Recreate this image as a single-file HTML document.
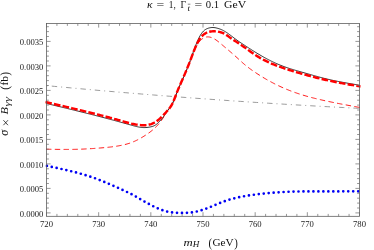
<!DOCTYPE html>
<html><head><meta charset="utf-8"><title>plot</title>
<style>html,body{margin:0;padding:0;background:#fff}svg{display:block;filter:opacity(0.999)}body{font-family:"Liberation Serif",serif}</style></head>
<body>
<svg width="374" height="250" viewBox="0 0 374 250">
<rect width="374" height="250" fill="#fff"/>
<clipPath id="c"><rect x="45.3" y="23.5" width="315.4" height="192.8"/></clipPath>
<g clip-path="url(#c)" fill="none">
<path d="M46.50,85.61 L50.46,85.99 L54.42,86.37 L58.39,86.74 L62.35,87.11 L66.31,87.47 L70.27,87.84 L74.23,88.20 L78.20,88.56 L82.16,88.92 L86.12,89.28 L90.08,89.63 L94.04,89.98 L98.01,90.33 L101.97,90.68 L105.93,91.02 L109.89,91.37 L113.85,91.71 L117.82,92.04 L121.78,92.38 L125.74,92.71 L129.70,93.04 L133.66,93.37 L137.63,93.70 L141.59,94.02 L145.55,94.35 L149.51,94.67 L153.47,94.98 L157.44,95.30 L161.40,95.61 L165.36,95.92 L169.32,96.23 L173.28,96.54 L177.25,96.84 L181.21,97.14 L185.17,97.44 L189.13,97.74 L193.09,98.03 L197.06,98.33 L201.02,98.62 L204.98,98.91 L208.94,99.19 L212.91,99.48 L216.87,99.76 L220.83,100.04 L224.79,100.31 L228.75,100.59 L232.72,100.86 L236.68,101.13 L240.64,101.40 L244.60,101.66 L248.56,101.93 L252.53,102.19 L256.49,102.44 L260.45,102.70 L264.41,102.96 L268.37,103.21 L272.34,103.46 L276.30,103.70 L280.26,103.95 L284.22,104.19 L288.18,104.43 L292.15,104.67 L296.11,104.91 L300.07,105.14 L304.03,105.37 L307.99,105.60 L311.96,105.83 L315.92,106.05 L319.88,106.28 L323.84,106.50 L327.80,106.71 L331.77,106.93 L335.73,107.14 L339.69,107.35 L343.65,107.56 L347.61,107.77 L351.58,107.97 L355.54,108.18 L359.50,108.37" stroke="#707070" stroke-width="0.7" stroke-dasharray="0 5 4.4 5" stroke-dashoffset="-0.8" stroke-linecap="square"/>
<path d="M46.50,165.80 L47.55,166.02 L48.59,166.23 L49.64,166.45 L50.69,166.67 L51.73,166.89 L52.78,167.11 L53.83,167.33 L54.87,167.55 L55.92,167.77 L56.97,167.99 L58.02,168.22 L59.06,168.45 L60.11,168.68 L61.16,168.91 L62.20,169.14 L63.25,169.38 L64.30,169.61 L65.34,169.85 L66.39,170.10 L67.44,170.34 L68.48,170.59 L69.53,170.85 L70.58,171.10 L71.62,171.36 L72.67,171.62 L73.72,171.89 L74.76,172.15 L75.81,172.42 L76.86,172.70 L77.90,172.98 L78.95,173.26 L80.00,173.54 L81.05,173.83 L82.09,174.13 L83.14,174.43 L84.19,174.73 L85.23,175.04 L86.28,175.36 L87.33,175.68 L88.37,176.01 L89.42,176.35 L90.47,176.69 L91.51,177.04 L92.56,177.40 L93.61,177.76 L94.65,178.13 L95.70,178.51 L96.75,178.90 L97.79,179.30 L98.84,179.70 L99.89,180.11 L100.93,180.53 L101.98,180.96 L103.03,181.39 L104.08,181.83 L105.12,182.27 L106.17,182.72 L107.22,183.17 L108.26,183.61 L109.31,184.06 L110.36,184.51 L111.40,184.96 L112.45,185.41 L113.50,185.86 L114.54,186.31 L115.59,186.77 L116.64,187.23 L117.68,187.70 L118.73,188.18 L119.78,188.65 L120.82,189.14 L121.87,189.62 L122.92,190.10 L123.96,190.58 L125.01,191.06 L126.06,191.54 L127.11,192.02 L128.15,192.51 L129.20,193.01 L130.25,193.52 L131.29,194.05 L132.34,194.59 L133.39,195.16 L134.43,195.73 L135.48,196.32 L136.53,196.92 L137.57,197.53 L138.62,198.14 L139.67,198.75 L140.71,199.36 L141.76,199.96 L142.81,200.57 L143.85,201.17 L144.90,201.76 L145.95,202.35 L146.99,202.94 L148.04,203.51 L149.09,204.08 L150.14,204.63 L151.18,205.18 L152.23,205.72 L153.28,206.24 L154.32,206.76 L155.37,207.26 L156.42,207.74 L157.46,208.21 L158.51,208.66 L159.56,209.09 L160.60,209.51 L161.65,209.90 L162.70,210.27 L163.74,210.61 L164.79,210.93 L165.84,211.23 L166.88,211.50 L167.93,211.74 L168.98,211.96 L170.03,212.16 L171.07,212.32 L172.12,212.47 L173.17,212.58 L174.21,212.68 L175.26,212.75 L176.31,212.81 L177.35,212.85 L178.40,212.88 L179.45,212.89 L180.49,212.90 L181.54,212.90 L182.59,212.90 L183.63,212.89 L184.68,212.87 L185.73,212.85 L186.77,212.81 L187.82,212.76 L188.87,212.69 L189.91,212.60 L190.96,212.50 L192.01,212.37 L193.06,212.22 L194.10,212.05 L195.15,211.85 L196.20,211.64 L197.24,211.40 L198.29,211.14 L199.34,210.86 L200.38,210.56 L201.43,210.25 L202.48,209.92 L203.52,209.57 L204.57,209.20 L205.62,208.83 L206.66,208.44 L207.71,208.04 L208.76,207.63 L209.80,207.21 L210.85,206.78 L211.90,206.35 L212.94,205.92 L213.99,205.48 L215.04,205.04 L216.09,204.60 L217.13,204.16 L218.18,203.73 L219.23,203.30 L220.27,202.87 L221.32,202.46 L222.37,202.05 L223.41,201.65 L224.46,201.26 L225.51,200.89 L226.55,200.53 L227.60,200.19 L228.65,199.86 L229.69,199.54 L230.74,199.23 L231.79,198.94 L232.83,198.66 L233.88,198.38 L234.93,198.12 L235.97,197.87 L237.02,197.63 L238.07,197.40 L239.12,197.18 L240.16,196.96 L241.21,196.75 L242.26,196.55 L243.30,196.36 L244.35,196.18 L245.40,196.00 L246.44,195.83 L247.49,195.66 L248.54,195.50 L249.58,195.34 L250.63,195.19 L251.68,195.04 L252.72,194.90 L253.77,194.76 L254.82,194.62 L255.86,194.48 L256.91,194.35 L257.96,194.22 L259.01,194.10 L260.05,193.98 L261.10,193.86 L262.15,193.74 L263.19,193.62 L264.24,193.51 L265.29,193.41 L266.33,193.30 L267.38,193.20 L268.43,193.10 L269.47,193.00 L270.52,192.91 L271.57,192.82 L272.61,192.73 L273.66,192.65 L274.71,192.57 L275.75,192.49 L276.80,192.41 L277.85,192.34 L278.89,192.27 L279.94,192.20 L280.99,192.14 L282.04,192.08 L283.08,192.02 L284.13,191.96 L285.18,191.91 L286.22,191.86 L287.27,191.81 L288.32,191.77 L289.36,191.73 L290.41,191.69 L291.46,191.65 L292.50,191.62 L293.55,191.59 L294.60,191.56 L295.64,191.54 L296.69,191.51 L297.74,191.49 L298.78,191.48 L299.83,191.46 L300.88,191.45 L301.92,191.43 L302.97,191.42 L304.02,191.42 L305.07,191.41 L306.11,191.40 L307.16,191.40 L308.21,191.39 L309.25,191.39 L310.30,191.39 L311.35,191.39 L312.39,191.39 L313.44,191.39 L314.49,191.39 L315.53,191.39 L316.58,191.40 L317.63,191.40 L318.67,191.40 L319.72,191.40 L320.77,191.40 L321.81,191.40 L322.86,191.40 L323.91,191.40 L324.95,191.40 L326.00,191.40 L327.05,191.40 L328.10,191.40 L329.14,191.40 L330.19,191.40 L331.24,191.40 L332.28,191.40 L333.33,191.39 L334.38,191.39 L335.42,191.39 L336.47,191.39 L337.52,191.38 L338.56,191.38 L339.61,191.38 L340.66,191.37 L341.70,191.37 L342.75,191.37 L343.80,191.36 L344.84,191.36 L345.89,191.36 L346.94,191.35 L347.98,191.35 L349.03,191.34 L350.08,191.34 L351.13,191.34 L352.17,191.33 L353.22,191.33 L354.27,191.32 L355.31,191.32 L356.36,191.31 L357.41,191.31 L358.45,191.30 L359.50,191.30" stroke="#0000f5" stroke-width="2.7" stroke-dasharray="0 4.975" stroke-dashoffset="-0.4" stroke-linecap="round"/>
<path d="M46.50,149.20 L47.55,149.22 L48.59,149.24 L49.64,149.25 L50.69,149.27 L51.73,149.29 L52.78,149.31 L53.83,149.32 L54.87,149.34 L55.92,149.35 L56.97,149.36 L58.02,149.38 L59.06,149.39 L60.11,149.40 L61.16,149.41 L62.20,149.41 L63.25,149.42 L64.30,149.42 L65.34,149.42 L66.39,149.42 L67.44,149.42 L68.48,149.42 L69.53,149.41 L70.58,149.40 L71.62,149.39 L72.67,149.38 L73.72,149.36 L74.76,149.34 L75.81,149.32 L76.86,149.29 L77.90,149.27 L78.95,149.23 L80.00,149.20 L81.05,149.16 L82.09,149.12 L83.14,149.08 L84.19,149.03 L85.23,148.98 L86.28,148.92 L87.33,148.87 L88.37,148.81 L89.42,148.75 L90.47,148.68 L91.51,148.62 L92.56,148.55 L93.61,148.48 L94.65,148.40 L95.70,148.33 L96.75,148.25 L97.79,148.17 L98.84,148.09 L99.89,148.01 L100.93,147.93 L101.98,147.84 L103.03,147.75 L104.08,147.66 L105.12,147.57 L106.17,147.47 L107.22,147.37 L108.26,147.26 L109.31,147.15 L110.36,147.03 L111.40,146.91 L112.45,146.77 L113.50,146.64 L114.54,146.49 L115.59,146.34 L116.64,146.18 L117.68,146.01 L118.73,145.83 L119.78,145.64 L120.82,145.44 L121.87,145.23 L122.92,145.01 L123.96,144.77 L125.01,144.52 L126.06,144.25 L127.11,143.96 L128.15,143.65 L129.20,143.33 L130.25,142.98 L131.29,142.60 L132.34,142.20 L133.39,141.78 L134.43,141.33 L135.48,140.85 L136.53,140.35 L137.57,139.83 L138.62,139.28 L139.67,138.72 L140.71,138.13 L141.76,137.52 L142.81,136.90 L143.85,136.25 L144.90,135.59 L145.95,134.91 L146.99,134.22 L148.04,133.50 L149.09,132.76 L150.14,131.98 L151.18,131.17 L152.23,130.33 L153.28,129.44 L154.32,128.51 L155.37,127.53 L156.42,126.50 L157.46,125.40 L158.51,124.22 L159.56,122.96 L160.60,121.59 L161.65,120.12 L162.70,118.56 L163.74,116.93 L164.79,115.24 L165.84,113.52 L166.88,111.83 L167.93,110.26 L168.98,108.84 L170.03,107.46 L171.07,105.98 L172.12,104.25 L173.17,102.11 L174.21,99.56 L175.26,96.80 L176.31,94.05 L177.35,91.46 L178.40,88.98 L179.45,86.59 L180.49,84.25 L181.54,81.91 L182.59,79.55 L183.63,77.17 L184.68,74.75 L185.73,72.29 L186.77,69.80 L187.82,67.25 L188.87,64.66 L189.91,62.00 L190.96,59.27 L192.01,56.52 L193.06,53.81 L194.10,51.23 L195.15,48.83 L196.20,46.68 L197.24,44.79 L198.29,43.15 L199.34,41.73 L200.38,40.52 L201.43,39.50 L202.48,38.67 L203.52,38.02 L204.57,37.52 L205.62,37.18 L206.66,36.97 L207.71,36.90 L208.76,36.94 L209.80,37.10 L210.85,37.36 L211.90,37.72 L212.94,38.17 L213.99,38.71 L215.04,39.32 L216.09,40.01 L217.13,40.76 L218.18,41.56 L219.23,42.40 L220.27,43.27 L221.32,44.15 L222.37,45.04 L223.41,45.93 L224.46,46.82 L225.51,47.70 L226.55,48.59 L227.60,49.47 L228.65,50.36 L229.69,51.25 L230.74,52.15 L231.79,53.05 L232.83,53.96 L233.88,54.87 L234.93,55.80 L235.97,56.74 L237.02,57.68 L238.07,58.64 L239.12,59.61 L240.16,60.57 L241.21,61.52 L242.26,62.47 L243.30,63.40 L244.35,64.30 L245.40,65.18 L246.44,66.03 L247.49,66.86 L248.54,67.66 L249.58,68.45 L250.63,69.22 L251.68,69.97 L252.72,70.71 L253.77,71.43 L254.82,72.14 L255.86,72.84 L256.91,73.54 L257.96,74.22 L259.01,74.89 L260.05,75.55 L261.10,76.21 L262.15,76.85 L263.19,77.48 L264.24,78.11 L265.29,78.73 L266.33,79.33 L267.38,79.93 L268.43,80.52 L269.47,81.10 L270.52,81.67 L271.57,82.23 L272.61,82.78 L273.66,83.32 L274.71,83.86 L275.75,84.38 L276.80,84.90 L277.85,85.40 L278.89,85.90 L279.94,86.39 L280.99,86.87 L282.04,87.34 L283.08,87.80 L284.13,88.26 L285.18,88.70 L286.22,89.14 L287.27,89.57 L288.32,89.99 L289.36,90.41 L290.41,90.81 L291.46,91.21 L292.50,91.60 L293.55,91.98 L294.60,92.36 L295.64,92.73 L296.69,93.09 L297.74,93.45 L298.78,93.79 L299.83,94.13 L300.88,94.47 L301.92,94.80 L302.97,95.12 L304.02,95.43 L305.07,95.74 L306.11,96.05 L307.16,96.35 L308.21,96.64 L309.25,96.92 L310.30,97.21 L311.35,97.48 L312.39,97.75 L313.44,98.02 L314.49,98.28 L315.53,98.54 L316.58,98.80 L317.63,99.05 L318.67,99.29 L319.72,99.54 L320.77,99.78 L321.81,100.01 L322.86,100.25 L323.91,100.48 L324.95,100.71 L326.00,100.94 L327.05,101.16 L328.10,101.38 L329.14,101.60 L330.19,101.82 L331.24,102.04 L332.28,102.25 L333.33,102.47 L334.38,102.68 L335.42,102.89 L336.47,103.10 L337.52,103.30 L338.56,103.51 L339.61,103.71 L340.66,103.91 L341.70,104.11 L342.75,104.31 L343.80,104.51 L344.84,104.71 L345.89,104.90 L346.94,105.10 L347.98,105.29 L349.03,105.49 L350.08,105.68 L351.13,105.87 L352.17,106.07 L353.22,106.26 L354.27,106.45 L355.31,106.64 L356.36,106.83 L357.41,107.02 L358.45,107.21 L359.50,107.40" stroke="#f00" stroke-width="0.9" stroke-dasharray="4.4 4.4" stroke-linecap="square"/>
<path d="M46.50,103.50 L47.55,103.75 L48.59,104.00 L49.64,104.25 L50.69,104.50 L51.73,104.75 L52.78,105.00 L53.83,105.25 L54.87,105.50 L55.92,105.76 L56.97,106.01 L58.02,106.26 L59.06,106.51 L60.11,106.76 L61.16,107.01 L62.20,107.26 L63.25,107.52 L64.30,107.77 L65.34,108.02 L66.39,108.28 L67.44,108.53 L68.48,108.78 L69.53,109.04 L70.58,109.29 L71.62,109.55 L72.67,109.80 L73.72,110.06 L74.76,110.31 L75.81,110.57 L76.86,110.83 L77.90,111.08 L78.95,111.34 L80.00,111.60 L81.05,111.86 L82.09,112.12 L83.14,112.38 L84.19,112.64 L85.23,112.90 L86.28,113.16 L87.33,113.43 L88.37,113.69 L89.42,113.95 L90.47,114.22 L91.51,114.48 L92.56,114.75 L93.61,115.02 L94.65,115.28 L95.70,115.55 L96.75,115.82 L97.79,116.09 L98.84,116.36 L99.89,116.63 L100.93,116.90 L101.98,117.17 L103.03,117.45 L104.08,117.72 L105.12,118.00 L106.17,118.27 L107.22,118.55 L108.26,118.83 L109.31,119.11 L110.36,119.38 L111.40,119.66 L112.45,119.95 L113.50,120.23 L114.54,120.51 L115.59,120.79 L116.64,121.08 L117.68,121.36 L118.73,121.65 L119.78,121.94 L120.82,122.23 L121.87,122.52 L122.92,122.81 L123.96,123.10 L125.01,123.39 L126.06,123.68 L127.11,123.97 L128.15,124.26 L129.20,124.55 L130.25,124.85 L131.29,125.14 L132.34,125.43 L133.39,125.72 L134.43,126.00 L135.48,126.28 L136.53,126.54 L137.57,126.78 L138.62,127.00 L139.67,127.20 L140.71,127.36 L141.76,127.48 L142.81,127.56 L143.85,127.59 L144.90,127.58 L145.95,127.53 L146.99,127.44 L148.04,127.31 L149.09,127.16 L150.14,126.97 L151.18,126.76 L152.23,126.48 L153.28,126.13 L154.32,125.67 L155.37,125.07 L156.42,124.34 L157.46,123.47 L158.51,122.49 L159.56,121.41 L160.60,120.26 L161.65,119.03 L162.70,117.71 L163.74,116.31 L164.79,114.81 L165.84,113.21 L166.88,111.59 L167.93,110.06 L168.98,108.67 L170.03,107.31 L171.07,105.85 L172.12,104.14 L173.17,102.02 L174.21,99.47 L175.26,96.70 L176.31,93.95 L177.35,91.32 L178.40,88.81 L179.45,86.37 L180.49,83.98 L181.54,81.61 L182.59,79.22 L183.63,76.81 L184.68,74.36 L185.73,71.88 L186.77,69.36 L187.82,66.77 L188.87,64.10 L189.91,61.34 L190.96,58.48 L192.01,55.54 L193.06,52.57 L194.10,49.64 L195.15,46.80 L196.20,44.10 L197.24,41.57 L198.29,39.24 L199.34,37.12 L200.38,35.23 L201.43,33.59 L202.48,32.20 L203.52,31.05 L204.57,30.12 L205.62,29.40 L206.66,28.84 L207.71,28.40 L208.76,28.06 L209.80,27.80 L210.85,27.62 L211.90,27.52 L212.94,27.50 L213.99,27.57 L215.04,27.70 L216.09,27.90 L217.13,28.16 L218.18,28.45 L219.23,28.79 L220.27,29.17 L221.32,29.59 L222.37,30.06 L223.41,30.58 L224.46,31.16 L225.51,31.78 L226.55,32.45 L227.60,33.16 L228.65,33.91 L229.69,34.67 L230.74,35.46 L231.79,36.26 L232.83,37.06 L233.88,37.86 L234.93,38.66 L235.97,39.44 L237.02,40.20 L238.07,40.95 L239.12,41.67 L240.16,42.38 L241.21,43.07 L242.26,43.76 L243.30,44.45 L244.35,45.13 L245.40,45.81 L246.44,46.49 L247.49,47.18 L248.54,47.86 L249.58,48.53 L250.63,49.21 L251.68,49.88 L252.72,50.55 L253.77,51.21 L254.82,51.86 L255.86,52.51 L256.91,53.15 L257.96,53.78 L259.01,54.41 L260.05,55.03 L261.10,55.64 L262.15,56.24 L263.19,56.83 L264.24,57.42 L265.29,57.99 L266.33,58.56 L267.38,59.12 L268.43,59.66 L269.47,60.20 L270.52,60.73 L271.57,61.25 L272.61,61.76 L273.66,62.26 L274.71,62.74 L275.75,63.22 L276.80,63.68 L277.85,64.14 L278.89,64.58 L279.94,65.01 L280.99,65.43 L282.04,65.84 L283.08,66.24 L284.13,66.63 L285.18,67.01 L286.22,67.37 L287.27,67.73 L288.32,68.09 L289.36,68.43 L290.41,68.77 L291.46,69.10 L292.50,69.42 L293.55,69.74 L294.60,70.05 L295.64,70.36 L296.69,70.67 L297.74,70.97 L298.78,71.27 L299.83,71.57 L300.88,71.87 L301.92,72.16 L302.97,72.46 L304.02,72.75 L305.07,73.05 L306.11,73.35 L307.16,73.64 L308.21,73.94 L309.25,74.24 L310.30,74.54 L311.35,74.84 L312.39,75.14 L313.44,75.44 L314.49,75.74 L315.53,76.03 L316.58,76.32 L317.63,76.61 L318.67,76.90 L319.72,77.18 L320.77,77.46 L321.81,77.74 L322.86,78.01 L323.91,78.28 L324.95,78.54 L326.00,78.79 L327.05,79.05 L328.10,79.29 L329.14,79.53 L330.19,79.77 L331.24,80.00 L332.28,80.23 L333.33,80.46 L334.38,80.68 L335.42,80.89 L336.47,81.11 L337.52,81.32 L338.56,81.52 L339.61,81.72 L340.66,81.93 L341.70,82.12 L342.75,82.32 L343.80,82.51 L344.84,82.70 L345.89,82.89 L346.94,83.07 L347.98,83.26 L349.03,83.44 L350.08,83.62 L351.13,83.80 L352.17,83.98 L353.22,84.15 L354.27,84.33 L355.31,84.50 L356.36,84.68 L357.41,84.85 L358.45,85.03 L359.50,85.20" stroke="#000" stroke-width="0.8"/>
<path d="M46.50,102.25 L47.55,102.49 L48.59,102.74 L49.64,102.98 L50.69,103.23 L51.73,103.47 L52.78,103.72 L53.83,103.96 L54.87,104.21 L55.92,104.46 L56.97,104.70 L58.02,104.95 L59.06,105.19 L60.11,105.44 L61.16,105.68 L62.20,105.93 L63.25,106.18 L64.30,106.42 L65.34,106.67 L66.39,106.92 L67.44,107.17 L68.48,107.41 L69.53,107.66 L70.58,107.91 L71.62,108.16 L72.67,108.41 L73.72,108.66 L74.76,108.91 L75.81,109.16 L76.86,109.41 L77.90,109.66 L78.95,109.91 L80.00,110.17 L81.05,110.42 L82.09,110.67 L83.14,110.92 L84.19,111.18 L85.23,111.43 L86.28,111.69 L87.33,111.94 L88.37,112.20 L89.42,112.46 L90.47,112.71 L91.51,112.97 L92.56,113.23 L93.61,113.49 L94.65,113.75 L95.70,114.01 L96.75,114.28 L97.79,114.54 L98.84,114.80 L99.89,115.07 L100.93,115.34 L101.98,115.60 L103.03,115.87 L104.08,116.15 L105.12,116.42 L106.17,116.69 L107.22,116.97 L108.26,117.25 L109.31,117.53 L110.36,117.81 L111.40,118.09 L112.45,118.38 L113.50,118.66 L114.54,118.95 L115.59,119.24 L116.64,119.54 L117.68,119.84 L118.73,120.13 L119.78,120.44 L120.82,120.74 L121.87,121.04 L122.92,121.35 L123.96,121.65 L125.01,121.95 L126.06,122.25 L127.11,122.54 L128.15,122.82 L129.20,123.09 L130.25,123.36 L131.29,123.61 L132.34,123.84 L133.39,124.06 L134.43,124.27 L135.48,124.46 L136.53,124.63 L137.57,124.78 L138.62,124.91 L139.67,125.02 L140.71,125.10 L141.76,125.16 L142.81,125.20 L143.85,125.21 L144.90,125.19 L145.95,125.14 L146.99,125.04 L148.04,124.89 L149.09,124.69 L150.14,124.43 L151.18,124.10 L152.23,123.70 L153.28,123.23 L154.32,122.68 L155.37,122.06 L156.42,121.36 L157.46,120.60 L158.51,119.77 L159.56,118.87 L160.60,117.92 L161.65,116.91 L162.70,115.85 L163.74,114.75 L164.79,113.61 L165.84,112.45 L166.88,111.26 L167.93,110.06 L168.98,108.84 L170.03,107.52 L171.07,106.00 L172.12,104.19 L173.17,102.00 L174.21,99.44 L175.26,96.69 L176.31,93.95 L177.35,91.34 L178.40,88.83 L179.45,86.39 L180.49,83.99 L181.54,81.61 L182.59,79.21 L183.63,76.80 L184.68,74.36 L185.73,71.89 L186.77,69.37 L187.82,66.81 L188.87,64.20 L189.91,61.51 L190.96,58.75 L192.01,55.94 L193.06,53.15 L194.10,50.44 L195.15,47.86 L196.20,45.47 L197.24,43.29 L198.29,41.32 L199.34,39.56 L200.38,38.02 L201.43,36.70 L202.48,35.58 L203.52,34.64 L204.57,33.85 L205.62,33.21 L206.66,32.68 L207.71,32.25 L208.76,31.91 L209.80,31.66 L210.85,31.48 L211.90,31.36 L212.94,31.31 L213.99,31.30 L215.04,31.33 L216.09,31.40 L217.13,31.51 L218.18,31.67 L219.23,31.88 L220.27,32.15 L221.32,32.47 L222.37,32.86 L223.41,33.32 L224.46,33.84 L225.51,34.44 L226.55,35.12 L227.60,35.85 L228.65,36.61 L229.69,37.38 L230.74,38.13 L231.79,38.85 L232.83,39.55 L233.88,40.23 L234.93,40.91 L235.97,41.58 L237.02,42.24 L238.07,42.92 L239.12,43.59 L240.16,44.28 L241.21,44.98 L242.26,45.69 L243.30,46.41 L244.35,47.15 L245.40,47.89 L246.44,48.65 L247.49,49.41 L248.54,50.18 L249.58,50.94 L250.63,51.70 L251.68,52.46 L252.72,53.20 L253.77,53.93 L254.82,54.64 L255.86,55.34 L256.91,56.01 L257.96,56.66 L259.01,57.29 L260.05,57.91 L261.10,58.50 L262.15,59.08 L263.19,59.64 L264.24,60.18 L265.29,60.71 L266.33,61.22 L267.38,61.72 L268.43,62.21 L269.47,62.68 L270.52,63.14 L271.57,63.59 L272.61,64.03 L273.66,64.45 L274.71,64.87 L275.75,65.28 L276.80,65.68 L277.85,66.07 L278.89,66.46 L279.94,66.84 L280.99,67.21 L282.04,67.58 L283.08,67.94 L284.13,68.30 L285.18,68.65 L286.22,69.00 L287.27,69.35 L288.32,69.69 L289.36,70.02 L290.41,70.35 L291.46,70.68 L292.50,71.01 L293.55,71.33 L294.60,71.64 L295.64,71.96 L296.69,72.27 L297.74,72.57 L298.78,72.88 L299.83,73.18 L300.88,73.48 L301.92,73.78 L302.97,74.07 L304.02,74.36 L305.07,74.65 L306.11,74.94 L307.16,75.23 L308.21,75.51 L309.25,75.79 L310.30,76.07 L311.35,76.35 L312.39,76.63 L313.44,76.90 L314.49,77.17 L315.53,77.44 L316.58,77.71 L317.63,77.97 L318.67,78.23 L319.72,78.49 L320.77,78.74 L321.81,78.99 L322.86,79.24 L323.91,79.48 L324.95,79.72 L326.00,79.95 L327.05,80.19 L328.10,80.42 L329.14,80.64 L330.19,80.87 L331.24,81.09 L332.28,81.30 L333.33,81.52 L334.38,81.73 L335.42,81.94 L336.47,82.15 L337.52,82.35 L338.56,82.55 L339.61,82.75 L340.66,82.95 L341.70,83.15 L342.75,83.34 L343.80,83.54 L344.84,83.73 L345.89,83.92 L346.94,84.11 L347.98,84.29 L349.03,84.48 L350.08,84.67 L351.13,84.85 L352.17,85.03 L353.22,85.21 L354.27,85.40 L355.31,85.58 L356.36,85.76 L357.41,85.94 L358.45,86.12 L359.50,86.30" stroke="#f00" stroke-width="2.45" stroke-dasharray="4.2 4.65" stroke-linecap="square"/>
</g>
<g stroke="#555" stroke-width="0.75" fill="none">
<rect x="46.5" y="23.5" width="313.0" height="192.8"/>
<path d="M46.50,216.3v-4.1M46.50,23.5v4.1M56.93,216.3v-2.4M56.93,23.5v2.4M67.37,216.3v-2.4M67.37,23.5v2.4M77.80,216.3v-2.4M77.80,23.5v2.4M88.23,216.3v-2.4M88.23,23.5v2.4M98.67,216.3v-4.1M98.67,23.5v4.1M109.10,216.3v-2.4M109.10,23.5v2.4M119.53,216.3v-2.4M119.53,23.5v2.4M129.97,216.3v-2.4M129.97,23.5v2.4M140.40,216.3v-2.4M140.40,23.5v2.4M150.83,216.3v-4.1M150.83,23.5v4.1M161.27,216.3v-2.4M161.27,23.5v2.4M171.70,216.3v-2.4M171.70,23.5v2.4M182.13,216.3v-2.4M182.13,23.5v2.4M192.57,216.3v-2.4M192.57,23.5v2.4M203.00,216.3v-4.1M203.00,23.5v4.1M213.43,216.3v-2.4M213.43,23.5v2.4M223.87,216.3v-2.4M223.87,23.5v2.4M234.30,216.3v-2.4M234.30,23.5v2.4M244.73,216.3v-2.4M244.73,23.5v2.4M255.17,216.3v-4.1M255.17,23.5v4.1M265.60,216.3v-2.4M265.60,23.5v2.4M276.03,216.3v-2.4M276.03,23.5v2.4M286.47,216.3v-2.4M286.47,23.5v2.4M296.90,216.3v-2.4M296.90,23.5v2.4M307.33,216.3v-4.1M307.33,23.5v4.1M317.77,216.3v-2.4M317.77,23.5v2.4M328.20,216.3v-2.4M328.20,23.5v2.4M338.63,216.3v-2.4M338.63,23.5v2.4M349.07,216.3v-2.4M349.07,23.5v2.4M359.50,216.3v-4.1M359.50,23.5v4.1M46.5,212.90h4.1M359.5,212.90h-4.1M46.5,208.00h2.4M359.5,208.00h-2.4M46.5,203.10h2.4M359.5,203.10h-2.4M46.5,198.20h2.4M359.5,198.20h-2.4M46.5,193.30h2.4M359.5,193.30h-2.4M46.5,188.40h4.1M359.5,188.40h-4.1M46.5,183.50h2.4M359.5,183.50h-2.4M46.5,178.60h2.4M359.5,178.60h-2.4M46.5,173.70h2.4M359.5,173.70h-2.4M46.5,168.80h2.4M359.5,168.80h-2.4M46.5,163.90h4.1M359.5,163.90h-4.1M46.5,159.00h2.4M359.5,159.00h-2.4M46.5,154.10h2.4M359.5,154.10h-2.4M46.5,149.20h2.4M359.5,149.20h-2.4M46.5,144.30h2.4M359.5,144.30h-2.4M46.5,139.40h4.1M359.5,139.40h-4.1M46.5,134.50h2.4M359.5,134.50h-2.4M46.5,129.60h2.4M359.5,129.60h-2.4M46.5,124.70h2.4M359.5,124.70h-2.4M46.5,119.80h2.4M359.5,119.80h-2.4M46.5,114.90h4.1M359.5,114.90h-4.1M46.5,110.00h2.4M359.5,110.00h-2.4M46.5,105.10h2.4M359.5,105.10h-2.4M46.5,100.20h2.4M359.5,100.20h-2.4M46.5,95.30h2.4M359.5,95.30h-2.4M46.5,90.40h4.1M359.5,90.40h-4.1M46.5,85.50h2.4M359.5,85.50h-2.4M46.5,80.60h2.4M359.5,80.60h-2.4M46.5,75.70h2.4M359.5,75.70h-2.4M46.5,70.80h2.4M359.5,70.80h-2.4M46.5,65.90h4.1M359.5,65.90h-4.1M46.5,61.00h2.4M359.5,61.00h-2.4M46.5,56.10h2.4M359.5,56.10h-2.4M46.5,51.20h2.4M359.5,51.20h-2.4M46.5,46.30h2.4M359.5,46.30h-2.4M46.5,41.40h4.1M359.5,41.40h-4.1M46.5,36.50h2.4M359.5,36.50h-2.4M46.5,31.60h2.4M359.5,31.60h-2.4M46.5,26.70h2.4M359.5,26.70h-2.4" stroke="#6a6a6a" stroke-width="0.7"/>
</g>
<g font-family="'Liberation Serif', serif" font-size="8.65" fill="#222">
<text x="46.50" y="227.1" text-anchor="middle">720</text>
<text x="98.67" y="227.1" text-anchor="middle">730</text>
<text x="150.83" y="227.1" text-anchor="middle">740</text>
<text x="203.00" y="227.1" text-anchor="middle">750</text>
<text x="255.17" y="227.1" text-anchor="middle">760</text>
<text x="307.33" y="227.1" text-anchor="middle">770</text>
<text x="359.50" y="227.1" text-anchor="middle">780</text>
<text x="43.4" y="216.60" text-anchor="end">0.0000</text>
<text x="43.4" y="192.10" text-anchor="end">0.0005</text>
<text x="43.4" y="167.60" text-anchor="end">0.0010</text>
<text x="43.4" y="143.10" text-anchor="end">0.0015</text>
<text x="43.4" y="118.60" text-anchor="end">0.0020</text>
<text x="43.4" y="94.10" text-anchor="end">0.0025</text>
<text x="43.4" y="69.60" text-anchor="end">0.0030</text>
<text x="43.4" y="45.10" text-anchor="end">0.0035</text>
</g>
<g font-family="'Liberation Serif', serif" fill="#111">
<text y="8.0" font-size="9.3"><tspan x="147.1" font-size="10.4" font-style="italic" textLength="5.6" lengthAdjust="spacingAndGlyphs">κ</tspan><tspan x="156.6" y="8.4" font-size="9.3" textLength="7.7" lengthAdjust="spacingAndGlyphs">=</tspan><tspan x="168.8" y="8.0" textLength="7.0" lengthAdjust="spacingAndGlyphs">1,</tspan><tspan x="180.6" textLength="5.6" lengthAdjust="spacingAndGlyphs">Γ</tspan><tspan x="194.6" y="8.4" textLength="7.7" lengthAdjust="spacingAndGlyphs">=</tspan><tspan x="205.8" y="8.0" textLength="13.4" lengthAdjust="spacingAndGlyphs">0.1</tspan><tspan x="224.0" textLength="22.2" lengthAdjust="spacingAndGlyphs">GeV</tspan></text>
<text x="187.5" y="10.8" font-size="9" font-style="italic">t</text>
<path d="M187.8,4.2 h2.6" stroke="#333" stroke-width="0.6" fill="none"/>
<text y="246.3" font-size="10.1"><tspan x="183.4" font-style="italic" textLength="9.2" lengthAdjust="spacingAndGlyphs">m</tspan><tspan x="208.6" y="246.9" font-size="11.6" textLength="3.6" lengthAdjust="spacingAndGlyphs">(</tspan><tspan x="212.4" y="246.3" textLength="21.2" lengthAdjust="spacingAndGlyphs">GeV</tspan><tspan x="234.2" y="246.9" font-size="11.6" textLength="3.6" lengthAdjust="spacingAndGlyphs">)</tspan></text>
<text x="192.8" y="247.2" font-size="7.4" font-style="italic" textLength="6.6" lengthAdjust="spacingAndGlyphs">H</text>
<g transform="translate(8.4,136) rotate(-90)">
<text y="0" font-size="10.4"><tspan x="0.2" font-size="11.6" font-style="italic" textLength="6.0" lengthAdjust="spacingAndGlyphs">σ</tspan><tspan x="21.4" font-style="italic" textLength="7.4" lengthAdjust="spacingAndGlyphs">B</tspan><tspan x="46.2" y="0.6" font-size="11.6" textLength="3.9" lengthAdjust="spacingAndGlyphs">(</tspan><tspan x="50.4" y="0" textLength="9.6" lengthAdjust="spacingAndGlyphs">fb</tspan><tspan x="60.2" y="0.6" font-size="11.6" textLength="3.9" lengthAdjust="spacingAndGlyphs">)</tspan></text>
<path d="M10.8,-5.0 L15.8,-0.4 M10.8,-0.4 L15.8,-5.0" stroke="#111" stroke-width="0.75" fill="none"/>
<text x="29.4" y="1.7" font-size="7.4" font-style="italic" fill="#333" textLength="9.6" lengthAdjust="spacingAndGlyphs">γγ</text>
</g>
</g>
</svg>
</body></html>
